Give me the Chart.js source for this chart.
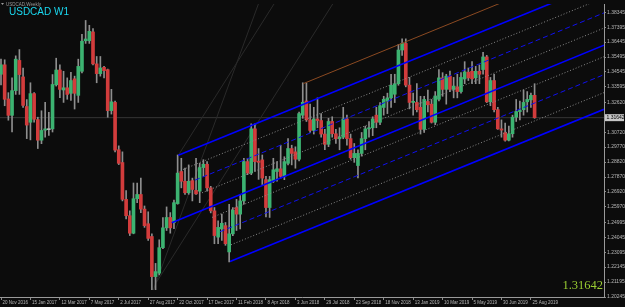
<!DOCTYPE html>
<html>
<head>
<meta charset="utf-8">
<script src="https://cdn.jsdelivr.net/npm/chart.js@4.4.1/dist/chart.umd.min.js"></script>
<style>
html, body { margin: 0; padding: 0; background: #0c0c0c; }
#wrap { width: 625px; height: 307px; position: relative; }
</style>
</head>
<body>
<div id="wrap"><canvas id="chart"></canvas></div>
<script>
// USDCAD weekly bars, 20 Nov 2016 .. 1 Sep 2019 (bar index = week number)

const opens = [
    1.3440, 1.3500, 1.3283, 1.3179, 1.3336, 1.3528, 1.3423, 1.3235, 1.3135, 1.3317,
    1.3152, 1.3021, 1.3085, 1.3088, 1.3093, 1.3373, 1.3467, 1.3340, 1.3354, 1.3319,
    1.3411, 1.3306, 1.3459, 1.3653, 1.3653, 1.3709, 1.3506, 1.3444, 1.3484, 1.3469,
    1.3209, 1.3261, 1.2960, 1.2879, 1.2645, 1.2541, 1.2430, 1.2649, 1.2676, 1.2583,
    1.2490, 1.2409, 1.2154, 1.2176, 1.2338, 1.2464, 1.2530, 1.2497, 1.2618, 1.2822,
    1.2760, 1.2687, 1.2764, 1.2702, 1.2697, 1.2847, 1.2868, 1.2718, 1.2572, 1.2405,
    1.2457, 1.2478, 1.2311, 1.2426, 1.2593, 1.2551, 1.2635, 1.2885, 1.2812, 1.3093,
    1.2888, 1.2896, 1.2770, 1.2593, 1.2760, 1.2822, 1.2839, 1.2791, 1.2874, 1.2968,
    1.2947, 1.2900, 1.3180, 1.3270, 1.3150, 1.3083, 1.3156, 1.3146, 1.3060, 1.2995,
    1.3140, 1.3062, 1.3030, 1.3040, 1.3156, 1.3031, 1.2910, 1.2860, 1.2937, 1.3031,
    1.3093, 1.3100, 1.3180, 1.3135, 1.3229, 1.3270, 1.3290, 1.3313, 1.3380, 1.3594,
    1.3636, 1.3371, 1.3261, 1.3261, 1.3230, 1.3090, 1.3267, 1.3250, 1.3135, 1.3281,
    1.3417, 1.3344, 1.3428, 1.3344, 1.3360, 1.3330, 1.3410, 1.3453, 1.3459, 1.3417,
    1.3459, 1.3470, 1.3550, 1.3265, 1.3400, 1.3215, 1.3093, 1.3069, 1.3021, 1.3062,
    1.3167, 1.3203, 1.3215, 1.3265, 1.3277, 1.3306
];
const highs = [
    1.3536, 1.3532, 1.3323, 1.3417, 1.3557, 1.3597, 1.3480, 1.3279, 1.3386, 1.3323,
    1.3167, 1.3208, 1.3261, 1.3198, 1.3438, 1.3542, 1.3500, 1.3459, 1.3417, 1.3453,
    1.3428, 1.3536, 1.3694, 1.3782, 1.3751, 1.3730, 1.3553, 1.3553, 1.3490, 1.3473,
    1.3344, 1.3269, 1.2985, 1.2947, 1.2700, 1.2572, 1.2749, 1.2749, 1.2780, 1.2603,
    1.2566, 1.2426, 1.2238, 1.2388, 1.2530, 1.2597, 1.2561, 1.2641, 1.2927, 1.2906,
    1.2843, 1.2864, 1.2780, 1.2906, 1.2874, 1.2897, 1.2885, 1.2728, 1.2593, 1.2509,
    1.2551, 1.2498, 1.2614, 1.2593, 1.2645, 1.2676, 1.2906, 1.2906, 1.3125, 1.3125,
    1.2968, 1.2927, 1.2791, 1.2791, 1.2906, 1.2885, 1.2989, 1.2916, 1.3031, 1.2989,
    1.2979, 1.3200, 1.3386, 1.3385, 1.3250, 1.3230, 1.3290, 1.3190, 1.3090, 1.3160,
    1.3170, 1.3090, 1.3100, 1.3230, 1.3180, 1.3060, 1.3000, 1.2960, 1.3070, 1.3110,
    1.3140, 1.3170, 1.3230, 1.3260, 1.3300, 1.3320, 1.3440, 1.3440, 1.3630, 1.3665,
    1.3665, 1.3420, 1.3320, 1.3380, 1.3300, 1.3300, 1.3340, 1.3280, 1.3330, 1.3470,
    1.3450, 1.3440, 1.3460, 1.3420, 1.3440, 1.3450, 1.3520, 1.3480, 1.3520, 1.3490,
    1.3500, 1.3580, 1.3560, 1.3420, 1.3440, 1.3230, 1.3150, 1.3130, 1.3110, 1.3180,
    1.3280, 1.3270, 1.3340, 1.3330, 1.3320, 1.3380
];
const lows = [
    1.3373, 1.3240, 1.3148, 1.3073, 1.3312, 1.3312, 1.3229, 1.3031, 1.3023, 1.3135,
    1.2968, 1.2999, 1.3041, 1.3052, 1.3073, 1.3365, 1.3292, 1.3261, 1.3281, 1.3273,
    1.3219, 1.3261, 1.3448, 1.3636, 1.3636, 1.3500, 1.3386, 1.3428, 1.3417, 1.3167,
    1.3187, 1.2947, 1.2866, 1.2635, 1.2520, 1.2415, 1.2426, 1.2624, 1.2561, 1.2467,
    1.2384, 1.2071, 1.2071, 1.2165, 1.2332, 1.2447, 1.2430, 1.2459, 1.2614, 1.2718,
    1.2677, 1.2677, 1.2635, 1.2677, 1.2624, 1.2791, 1.2697, 1.2559, 1.2363, 1.2363,
    1.2384, 1.2353, 1.2248, 1.2415, 1.2447, 1.2457, 1.2614, 1.2802, 1.2802, 1.2822,
    1.2772, 1.2739, 1.2534, 1.2530, 1.2752, 1.2760, 1.2780, 1.2770, 1.2864, 1.2864,
    1.2843, 1.2890, 1.3160, 1.3140, 1.3070, 1.3060, 1.3100, 1.3040, 1.2960, 1.2980,
    1.3040, 1.3000, 1.2960, 1.3030, 1.2990, 1.2900, 1.2880, 1.2782, 1.2920, 1.2960,
    1.3040, 1.3050, 1.3100, 1.3120, 1.3180, 1.3190, 1.3230, 1.3260, 1.3370, 1.3560,
    1.3360, 1.3220, 1.3180, 1.3200, 1.3060, 1.3070, 1.3200, 1.3130, 1.3120, 1.3270,
    1.3300, 1.3250, 1.3330, 1.3290, 1.3290, 1.3320, 1.3380, 1.3400, 1.3380, 1.3380,
    1.3380, 1.3440, 1.3260, 1.3240, 1.3200, 1.3090, 1.3040, 1.3015, 1.3016, 1.3040,
    1.3140, 1.3150, 1.3180, 1.3200, 1.3230, 1.3160
];
const closes = [
    1.3500, 1.3281, 1.3179, 1.3336, 1.3536, 1.3438, 1.3242, 1.3117, 1.3317, 1.3154,
    1.3021, 1.3083, 1.3093, 1.3091, 1.3375, 1.3467, 1.3344, 1.3354, 1.3312, 1.3400,
    1.3319, 1.3490, 1.3650, 1.3664, 1.3713, 1.3506, 1.3444, 1.3480, 1.3463, 1.3209,
    1.3265, 1.2958, 1.2874, 1.2645, 1.2541, 1.2430, 1.2649, 1.2676, 1.2583, 1.2478,
    1.2397, 1.2154, 1.2186, 1.2338, 1.2464, 1.2530, 1.2464, 1.2624, 1.2812, 1.2760,
    1.2687, 1.2760, 1.2708, 1.2680, 1.2847, 1.2868, 1.2718, 1.2572, 1.2415, 1.2467,
    1.2493, 1.2363, 1.2426, 1.2576, 1.2551, 1.2635, 1.2885, 1.2812, 1.3093, 1.2885,
    1.2880, 1.2780, 1.2593, 1.2770, 1.2833, 1.2839, 1.2791, 1.2885, 1.2968, 1.2937,
    1.2900, 1.3190, 1.3262, 1.3150, 1.3083, 1.3156, 1.3146, 1.3060, 1.2995, 1.3140,
    1.3062, 1.3030, 1.3040, 1.3156, 1.3031, 1.2910, 1.2937, 1.2937, 1.3031, 1.3093,
    1.3100, 1.3156, 1.3135, 1.3240, 1.3281, 1.3290, 1.3370, 1.3380, 1.3594, 1.3636,
    1.3371, 1.3261, 1.3268, 1.3215, 1.3090, 1.3280, 1.3246, 1.3135, 1.3302, 1.3417,
    1.3344, 1.3428, 1.3344, 1.3365, 1.3330, 1.3420, 1.3455, 1.3417, 1.3411, 1.3459,
    1.3440, 1.3550, 1.3265, 1.3400, 1.3215, 1.3093, 1.3085, 1.3021, 1.3062, 1.3167,
    1.3203, 1.3210, 1.3261, 1.3280, 1.3306, 1.31642
];

const lastPrice = 1.31642;

// time axis labels every 8 weeks
const xTickBars = [0, 8, 16, 24, 32, 40, 48, 56, 64, 72, 80, 88, 96, 104, 112, 120, 128, 136, 144];
const xTickLabels = [
    '20 Nov 2016', '15 Jan 2017', '12 Mar 2017', '7 May 2017', '2 Jul 2017', '27 Aug 2017',
    '22 Oct 2017', '17 Dec 2017', '11 Feb 2018', '8 Apr 2018', '3 Jun 2018', '29 Jul 2018',
    '23 Sep 2018', '18 Nov 2018', '13 Jan 2019', '10 Mar 2019', '5 May 2019', '30 Jun 2019',
    '25 Aug 2019'
];
const yTicks = [
    1.38345, 1.37395, 1.36445, 1.35495, 1.34545, 1.33595, 1.32620, 1.30720, 1.29770, 1.28820,
    1.27870, 1.26920, 1.25970, 1.24995, 1.24045, 1.23095, 1.22145, 1.21195, 1.20245
];

// channel objects: [startBar, startPrice, endBar, endPrice]
const upperLine = [48.18, 1.29254, 163.86, 1.40271];
const middleLine = [46.39, 1.24965, 163.86, 1.36251];
const lowerLine = [62.23, 1.22501, 163.86, 1.32175];
const upperLevels = [0.25, 0.49, 0.73];
const upperStarts = [49.46, 52.72, 54.62];
const lowerLevels = [0.18, 0.46, 0.74];
const lowerStarts = [57.34, 59.51, 62.5];
const brownLine = [82.15, 1.33805, 163.86, 1.41611];
const faintLines = [
    [41.39, 1.20683, 69.95, 1.38865],
    [42.31, 1.21204, 90.14, 1.38865],
    [48.18, 1.29254, 74.18, 1.38865]
];

const X_MIN = -0.272, X_MAX = 163.86;
const Y_MIN = 1.20245, Y_MAX = 1.38865;

function priceAt(line, i) {
    return line[1] + (line[3] - line[1]) * (i - line[0]) / (line[2] - line[0]);
}
function levelAt(a, b, f, i) {
    const pa = priceAt(a, i);
    return pa + f * (priceAt(b, i) - pa);
}
function seg(points, color, width, dash, order) {
    return {
        type: 'line', data: points, borderColor: color, borderWidth: width,
        borderDash: dash, pointRadius: 0, fill: false, tension: 0, order: order
    };
}
function lineSeg(l, color, width, dash, order) {
    return seg([{x: l[0], y: l[1]}, {x: l[2], y: l[3]}], color, width, dash, order);
}

const bodyColors = opens.map((o, k) => {
    if (Math.abs(closes[k] - o) < 0.0003) return '#b4b4b4';
    return closes[k] > o ? '#3cb371' : '#d23c3c';
});

const datasets = [];

// candle bodies and wicks
datasets.push({
    type: 'bar',
    data: opens.map((o, k) => ({x: k, y: [o, closes[k]]})),
    backgroundColor: bodyColors,
    barThickness: 3,
    minBarLength: 1,
    grouped: false,
    order: 2
});
datasets.push({
    type: 'bar',
    data: lows.map((l, k) => ({x: k, y: [l, highs[k]]})),
    backgroundColor: '#8e8e8e',
    barThickness: 1,
    grouped: false,
    order: 3
});

// faint handle lines + price line
faintLines.forEach(l => datasets.push(lineSeg(l, '#2a2a2a', 1, [], 4)));
datasets.push(seg([{x: X_MIN, y: lastPrice}, {x: X_MAX, y: lastPrice}], '#363636', 1, [], 4));

// channel
datasets.push(lineSeg(upperLine, '#0000ff', 1.6, [], 0));
datasets.push(lineSeg(middleLine, '#0000ff', 1.6, [], 0));
datasets.push(lineSeg(lowerLine, '#0000ff', 1.6, [], 0));
upperLevels.forEach((f, k) => {
    const s = upperStarts[k];
    const pts = [{x: s, y: levelAt(upperLine, middleLine, f, s)},
                 {x: X_MAX, y: levelAt(upperLine, middleLine, f, X_MAX)}];
    datasets.push(k === 1 ? seg(pts, '#1010ee', 1, [5, 3], 1) : seg(pts, '#8a8a8a', 1, [1, 2], 1));
});
lowerLevels.forEach((f, k) => {
    const s = lowerStarts[k];
    const pts = [{x: s, y: levelAt(middleLine, lowerLine, f, s)},
                 {x: X_MAX, y: levelAt(middleLine, lowerLine, f, X_MAX)}];
    datasets.push(k === 1 ? seg(pts, '#1010ee', 1, [5, 3], 1) : seg(pts, '#8a8a8a', 1, [1, 2], 1));
});
datasets.push(lineSeg(brownLine, '#8b4a22', 1, [], 1));

const decor = {
    id: 'decor',
    beforeDraw(chart) {
        const c = chart.ctx;
        c.save();
        c.fillStyle = '#0c0c0c';
        c.fillRect(0, 0, chart.width, chart.height);
        c.restore();
    },
    afterDraw(chart) {
        const c = chart.ctx, a = chart.chartArea;
        const py = chart.scales.y.getPixelForValue(lastPrice);
        c.save();
        // small caption
        c.fillStyle = '#9a9a9a';
        c.beginPath();
        c.moveTo(1, 3); c.lineTo(4, 3); c.lineTo(2.5, 5); c.closePath(); c.fill();
        c.font = '4.5px "Liberation Sans"';
        c.textBaseline = 'alphabetic';
        c.fillText('USDCAD,Weekly', 6, 6);
        c.fillStyle = '#1ad8f0';
        c.font = '10px "Liberation Sans"';
        c.fillText('USDCAD W1', 9, 15);
        // last price tag on the axis
        c.fillStyle = '#c8c8c8';
        c.fillRect(a.right + 1, py - 3.5, 19, 7);
        c.fillStyle = '#000000';
        c.font = '5px "Liberation Sans"';
        c.textBaseline = 'middle';
        c.fillText(lastPrice.toFixed(5), a.right + 2.5, py);
        // big price
        c.fillStyle = '#9acd32';
        c.font = '12.5px "Liberation Serif"';
        c.textAlign = 'right';
        c.textBaseline = 'alphabetic';
        c.fillText(lastPrice.toFixed(5), a.right - 1, 289);
        c.restore();
    }
};

new Chart(document.getElementById('chart'), {
    type: 'bar',
    data: { datasets: datasets },
    plugins: [decor],
    options: {
        responsive: true,
        maintainAspectRatio: false,
        animation: false,
        devicePixelRatio: 1,
        layout: { padding: 0 },
        plugins: { legend: { display: false }, tooltip: { enabled: false } },
        scales: {
            x: {
                type: 'linear',
                position: 'bottom',
                min: X_MIN,
                max: X_MAX,
                offset: false,
                afterBuildTicks: s => { s.ticks = xTickBars.map(v => ({value: v})); },
                afterFit: s => { s.height = 10; },
                grid: { display: true, drawOnChartArea: false, drawTicks: true, tickLength: 3, color: '#8a8a8a', offset: false },
                border: { display: true, color: '#9a9a9a' },
                ticks: {
                    autoSkip: false, maxRotation: 0, align: 'start', labelOffset: 1.5, padding: 0,
                    color: '#b8b8b8', font: { size: 4.5, family: 'Liberation Sans' },
                    callback: (v, k) => xTickLabels[k]
                }
            },
            y: {
                type: 'linear',
                position: 'right',
                min: Y_MIN,
                max: Y_MAX,
                afterBuildTicks: s => { s.ticks = yTicks.map(v => ({value: v})); },
                afterFit: s => { s.width = 21; },
                grid: { display: true, drawOnChartArea: false, drawTicks: true, tickLength: 2, color: '#8a8a8a' },
                border: { display: true, color: '#9a9a9a' },
                ticks: {
                    autoSkip: false, padding: 1,
                    color: '#b8b8b8', font: { size: 5, family: 'Liberation Sans' },
                    callback: v => v.toFixed(5)
                }
            }
        }
    }
});
</script>
</body>
</html>
